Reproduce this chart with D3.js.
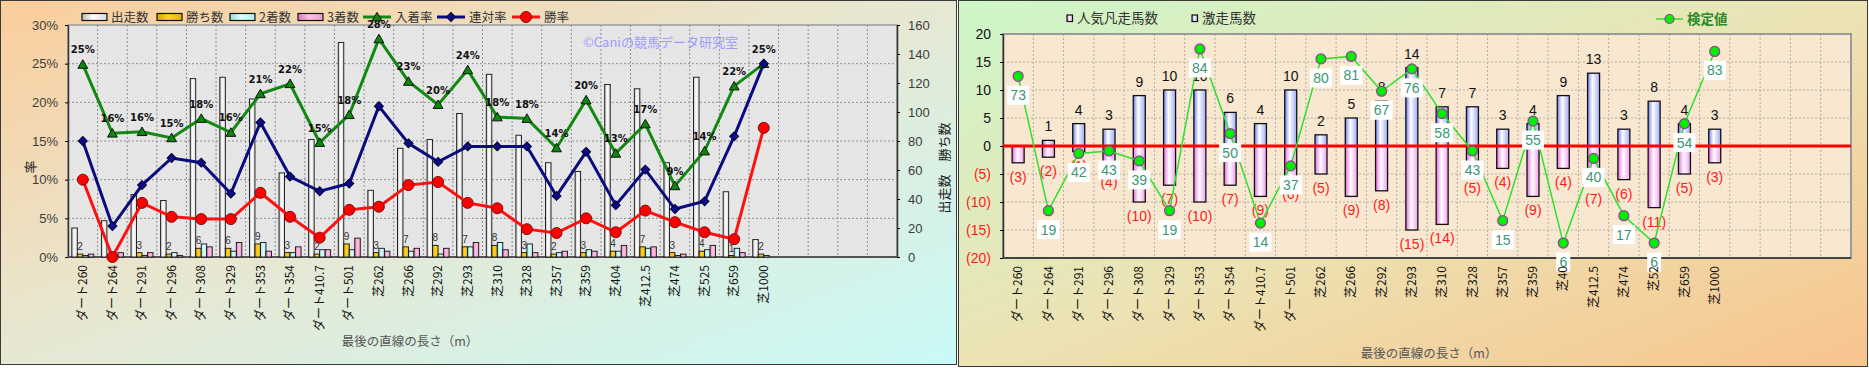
<!DOCTYPE html>
<html>
<head>
<meta charset="utf-8">
<script src="https://cdn.jsdelivr.net/npm/d3@7"></script>
<style>
  body { margin: 0; background: #fff; }
  svg { display: block; font-family: "Noto Sans CJK JP", "Noto Sans", sans-serif; }
</style>
</head>
<body>
<svg id="chart" width="1869" height="368"></svg>
<script>
"use strict";

//
//   DATA
//

var SLOTS = 28; // category slots on the x axis, only the first 24 are used

var categories = ["ダート260", "ダート264", "ダート291", "ダート296", "ダート308", "ダート329", "ダート353", "ダート354", "ダート410.7", "ダート501",
    "芝262", "芝266", "芝292", "芝293", "芝310", "芝328", "芝357", "芝359", "芝404", "芝412.5", "芝474", "芝525", "芝659", "芝1000"];
var categoriesRight = ["ダート260", "ダート264", "ダート291", "ダート296", "ダート308", "ダート329", "ダート353", "ダート354", "ダート410.7", "ダート501",
    "芝262", "芝266", "芝292", "芝293", "芝310", "芝328", "芝357", "芝359", "芝40", "芝412.5", "芝474", "芝52", "芝659", "芝1000"];

// left chart
var runs = [20, 25, 43, 39, 123, 124, 109, 58, 81, 148, 46, 75, 81, 99, 126, 84, 65, 59, 119, 116, 65, 124, 45, 12];
var wins = [2, 0, 3, 2, 6, 6, 9, 3, 2, 9, 3, 7, 8, 7, 8, 3, 2, 3, 4, 7, 3, 4, 1, 2];
var seconds = [1, 1, 1, 3, 9, 4, 10, 3, 5, 5, 6, 4, 2, 7, 10, 9, 3, 5, 4, 6, 1, 5, 6, 1];
var thirds = [2, 3, 3, 1, 7, 10, 4, 7, 5, 13, 4, 6, 6, 10, 5, 3, 4, 4, 8, 7, 2, 8, 3, 0];
var placeRate = [24.9, 16.0, 16.2, 15.4, 17.9, 16.1, 21.1, 22.4, 14.8, 18.4, 28.2, 22.7, 19.7, 24.2, 18.1, 17.9, 14.1, 20.3, 13.4, 17.2, 9.2, 13.7, 22.1, 25.0];
var quinellaRate = [15.0, 4.0, 9.3, 12.8, 12.2, 8.2, 17.4, 10.4, 8.5, 9.5, 19.5, 14.7, 12.3, 14.3, 14.3, 14.3, 7.9, 13.6, 6.7, 11.3, 6.2, 7.2, 15.6, 25.0];
var winRate = [10.0, 0, 7.0, 5.2, 4.9, 4.9, 8.3, 5.2, 2.5, 6.1, 6.5, 9.3, 9.7, 7.0, 6.3, 3.6, 3.1, 5.0, 3.2, 6.0, 4.5, 3.2, 2.3, 16.7];
var rateTicks = [0, 5, 10, 15, 20, 25, 30];
var countTicks = [0, 20, 40, 60, 80, 100, 120, 140, 160];

// right chart
var upsetCounts = [0, 1, 4, 3, 9, 10, 10, 6, 4, 10, 2, 5, 8, 14, 7, 7, 3, 4, 9, 13, 3, 8, 4, 3];      // 激走馬数
var flopCounts = [3, 2, 1, 4, 10, 7, 10, 7, 9, 6, 5, 9, 8, 15, 14, 5, 4, 9, 4, 7, 6, 11, 5, 3];      // 人気凡走馬数
var testValues = [73, 19, 42, 43, 39, 19, 84, 50, 14, 37, 80, 81, 67, 76, 58, 43, 15, 55, 6, 40, 17, 6, 54, 83]; // 検定値
var rightTicks = [-20, -15, -10, -5, 0, 5, 10, 15, 20];


//
//   SET UP
//

var svg = d3.select("#chart");
var defs = svg.append("defs");

function addGradient(id, stops, x2, y2) {
    var g = defs.append("linearGradient").attr("id", id)
        .attr("x1", 0).attr("y1", 0).attr("x2", x2).attr("y2", y2);
    stops.forEach(function (s) {
        g.append("stop").attr("offset", s[0]).attr("stop-color", s[1]);
    });
}

addGradient("leftBg", [[0, "#fbcd9b"], [0.45, "#e9e6cf"], [1, "#c9faf8"]], 1, 1);
addGradient("rightBg", [[0, "#cdf6c9"], [0.5, "#ece3b4"], [1, "#f8c48e"]], 1, 1);
addGradient("runsGrad", [[0, "#bdbdbd"], [0.45, "#ffffff"], [1, "#d8d8d8"]], 1, 0);
addGradient("winsGrad", [[0, "#d9a200"], [0.45, "#ffd42a"], [1, "#e6b400"]], 1, 0);
addGradient("secondGrad", [[0, "#94dede"], [0.45, "#dcffff"], [1, "#aeeeee"]], 1, 0);
addGradient("thirdGrad", [[0, "#df78bd"], [0.45, "#ffc2e2"], [1, "#ef9bce"]], 1, 0);
addGradient("upGrad", [[0, "#6f7ef0"], [0.4, "#ffffff"], [1, "#9eaaf8"]], 1, 0);
addGradient("flopGrad", [[0, "#e46ee4"], [0.45, "#ffffff"], [1, "#f09cf0"]], 1, 0);

var grain = defs.append("filter").attr("id", "grain")
    .attr("x", 0).attr("y", 0).attr("width", 1).attr("height", 1);
grain.append("feTurbulence").attr("type", "fractalNoise").attr("baseFrequency", 0.75).attr("numOctaves", 3).attr("seed", 4);
grain.append("feColorMatrix").attr("type", "saturate").attr("values", 0);

// panel backgrounds
svg.append("rect").attr("x", 0.5).attr("y", 0.5).attr("width", 956).attr("height", 364)
    .style("fill", "url(#leftBg)").style("stroke", "#3a3a3a");
svg.append("rect").attr("x", 958.5).attr("y", 0.5).attr("width", 909).attr("height", 366)
    .style("fill", "url(#rightBg)").style("stroke", "#3a3a3a");


//
//   LEFT CHART
//

var L = { left: 68, right: 897, top: 25, bottom: 257 };
var xL = d3.scaleBand().domain(d3.range(SLOTS)).range([L.left, L.right]);
var xSub = d3.scaleBand().domain([0, 1, 2, 3]).range([0, xL.bandwidth()]).paddingOuter(0.69);
var yRate = d3.scaleLinear().domain([0, 30]).range([L.bottom, L.top]);
var yCount = d3.scaleLinear().domain([0, 160]).range([L.bottom, L.top]);

var left = svg.append("g");

left.append("rect").attr("x", L.left).attr("y", L.top)
    .attr("width", L.right - L.left).attr("height", L.bottom - L.top)
    .style("fill", "#ebebeb");
left.append("rect").attr("x", L.left).attr("y", L.top)
    .attr("width", L.right - L.left).attr("height", L.bottom - L.top)
    .attr("filter", "url(#grain)").style("opacity", 0.22);

// gridlines
rateTicks.slice(1, -1).forEach(function (t) {
    left.append("line").attr("x1", L.left).attr("x2", L.right)
        .attr("y1", yRate(t)).attr("y2", yRate(t))
        .style("stroke", "#8e8e8e").style("stroke-dasharray", "2,2");
});
d3.range(1, SLOTS).forEach(function (i) {
    left.append("line").attr("x1", xL(i)).attr("x2", xL(i))
        .attr("y1", L.top).attr("y2", L.bottom)
        .style("stroke", "#8e8e8e").style("stroke-dasharray", "2,2");
});
left.append("rect").attr("x", L.left).attr("y", L.top)
    .attr("width", L.right - L.left).attr("height", L.bottom - L.top)
    .style("fill", "none").style("stroke", "#9a9a9a").style("stroke-width", 1.5);

// axes
var axisRate = d3.axisLeft(yRate).tickValues(rateTicks).tickSizeInner(3).tickSizeOuter(0).tickPadding(7)
    .tickFormat(function (d) { return d + "%"; });
var axisCount = d3.axisRight(yCount).tickValues(countTicks).tickSizeInner(3).tickSizeOuter(0).tickPadding(8);
var gRate = left.append("g").attr("transform", "translate(" + L.left + ",0)").call(axisRate);
var gCount = left.append("g").attr("transform", "translate(" + L.right + ",0)").call(axisCount);
[gRate, gCount].forEach(function (g) {
    g.select(".domain").style("stroke", "#333").style("stroke-width", 1.5);
    g.selectAll("text").style("font-size", "13px").style("fill", "#3c3c3c")
        .style("font-family", "'Liberation Sans', Arial, sans-serif");
});
left.append("line").attr("x1", L.left).attr("x2", L.right).attr("y1", L.bottom).attr("y2", L.bottom)
    .style("stroke", "#555").style("stroke-width", 2);

// bars (zero values are kept in the data but hidden)
var barSeries = [runs, wins, seconds, thirds];
var barFills = ["url(#runsGrad)", "url(#winsGrad)", "url(#secondGrad)", "url(#thirdGrad)"];
barSeries.forEach(function (series, s) {
    left.selectAll("rect.bar" + s).data(series).enter()
        .append("rect")
        .attr("class", "bar" + s)
        .attr("x", function (d, i) { return xL(i) + xSub(s); })
        .attr("y", function (d) { return yCount(d); })
        .attr("width", xSub.bandwidth())
        .attr("height", function (d) { return L.bottom - yCount(d); })
        .style("display", function (d) { return d > 0 ? null : "none"; })
        .style("fill", barFills[s]).style("stroke", "#111").style("stroke-width", 0.9);
});

// win count labels
wins.forEach(function (d, i) {
    if (d <= 0) return;
    left.append("text")
        .attr("x", xL(i) + xSub(1) + xSub.bandwidth() / 2)
        .attr("y", yCount(d) - 4)
        .attr("text-anchor", "middle")
        .style("font-size", "10px").style("fill", "#333")
        .style("font-family", "'Liberation Sans', Arial, sans-serif")
        .text(d);
});

// watermark
left.append("text").attr("x", 583).attr("y", 47)
    .style("font-size", "13px").style("fill", "#9c9cff")
    .text("©Caniの競馬データ研究室");

// lines
function cx(i) { return xL(i) + xL.bandwidth() / 2; }
var rateLine = d3.line().x(function (d, i) { return cx(i); }).y(function (d) { return yRate(d); });

var lineDefs = [
    { data: placeRate, color: "#118811", marker: "triangle", fill: "#0a8a0a" },
    { data: quinellaRate, color: "#0b0b80", marker: "diamond", fill: "#0b0b8c" },
    { data: winRate, color: "#ff1010", marker: "circle", fill: "#ff0000" }
];

function drawMarker(g, type, x, y, fill) {
    if (type === "circle") {
        g.append("circle").attr("cx", x).attr("cy", y).attr("r", 5.5)
            .style("fill", fill).style("stroke", "#7a1010").style("stroke-width", 1);
    } else if (type === "triangle") {
        g.append("path").attr("d", d3.symbol(d3.symbolTriangle, 42)())
            .attr("transform", "translate(" + x + "," + (y + 1) + ")")
            .style("fill", fill).style("stroke", "#111").style("stroke-width", 1);
    } else {
        g.append("path").attr("d", d3.symbol(d3.symbolSquare, 40)())
            .attr("transform", "translate(" + x + "," + y + ") rotate(45)")
            .style("fill", fill).style("stroke", "#000030").style("stroke-width", 1);
    }
}

lineDefs.forEach(function (ld) {
    left.append("path").attr("d", rateLine(ld.data))
        .style("fill", "none").style("stroke", ld.color).style("stroke-width", 3);
});
lineDefs.forEach(function (ld) {
    ld.data.forEach(function (d, i) {
        drawMarker(left, ld.marker, cx(i), yRate(d), ld.fill);
    });
});

// place rate labels
placeRate.forEach(function (d, i) {
    left.append("text")
        .attr("x", cx(i)).attr("y", yRate(d) - 11)
        .attr("text-anchor", "middle")
        .style("font-size", "10px").style("font-weight", "bold").style("fill", "#111")
        .style("font-family", "'DejaVu Sans', sans-serif")
        .text(Math.round(d) + "%");
});

// x labels
categories.forEach(function (c, i) {
    left.append("text")
        .attr("transform", "translate(" + cx(i) + "," + (L.bottom + 8) + ") rotate(-90)")
        .attr("text-anchor", "end").attr("dy", "0.35em")
        .style("font-size", "12px").style("fill", "#111")
        .text(c);
});

// titles
left.append("text").attr("x", 410).attr("y", 346).attr("text-anchor", "middle")
    .style("font-size", "12.5px").style("fill", "#555").text("最後の直線の長さ（m）");
left.append("text").attr("transform", "translate(30,167) rotate(-90)").attr("text-anchor", "middle")
    .attr("dy", "0.35em").style("font-size", "13px").style("fill", "#222").text("率");
left.append("text").attr("transform", "translate(944,168) rotate(-90)").attr("text-anchor", "middle")
    .attr("dy", "0.35em").style("font-size", "13px").style("fill", "#222").text("出走数　勝ち数");

// legend
var legendBars = [
    { label: "出走数", fill: "url(#runsGrad)", x: 82 },
    { label: "勝ち数", fill: "url(#winsGrad)", x: 157 },
    { label: "2着数", fill: "url(#secondGrad)", x: 230 },
    { label: "3着数", fill: "url(#thirdGrad)", x: 298 }
];
legendBars.forEach(function (lb) {
    left.append("rect").attr("x", lb.x).attr("y", 13.5).attr("width", 25).attr("height", 7)
        .style("fill", lb.fill).style("stroke", "#111").style("stroke-width", 1.2);
    left.append("text").attr("x", lb.x + 29).attr("y", 22)
        .style("font-size", "12.5px").style("fill", "#333").text(lb.label);
});
var legendLines = [
    { label: "入着率", def: lineDefs[0], x: 363 },
    { label: "連対率", def: lineDefs[1], x: 437 },
    { label: "勝率", def: lineDefs[2], x: 512 }
];
legendLines.forEach(function (ll) {
    left.append("line").attr("x1", ll.x).attr("x2", ll.x + 28).attr("y1", 17).attr("y2", 17)
        .style("stroke", ll.def.color).style("stroke-width", 3);
    drawMarker(left, ll.def.marker, ll.x + 14, 17, ll.def.fill);
    left.append("text").attr("x", ll.x + 32).attr("y", 22)
        .style("font-size", "12.5px").style("fill", "#333").text(ll.label);
});


//
//   RIGHT CHART
//

var R = { left: 1003, right: 1851, top: 34, bottom: 258 };
var xR = d3.scaleBand().domain(d3.range(SLOTS)).range([R.left, R.right]);
var yR = d3.scaleLinear().domain([-20, 20]).range([R.bottom, R.top]);
var yTest = d3.scaleLinear().domain([0, 90]).range([R.bottom, R.top]); // hidden secondary axis
var BAR_W = 12;

function rx(i) { return xR(i) + xR.bandwidth() / 2; }

var right = svg.append("g");

right.append("rect").attr("x", R.left).attr("y", R.top)
    .attr("width", R.right - R.left).attr("height", R.bottom - R.top)
    .style("fill", "#fcebd2");
right.append("rect").attr("x", R.left).attr("y", R.top)
    .attr("width", R.right - R.left).attr("height", R.bottom - R.top)
    .attr("filter", "url(#grain)").style("opacity", 0.12);

rightTicks.slice(1, -1).forEach(function (t) {
    right.append("line").attr("x1", R.left).attr("x2", R.right)
        .attr("y1", yR(t)).attr("y2", yR(t))
        .style("stroke", "#b5aba0").style("stroke-dasharray", "2,2");
});
d3.range(1, SLOTS).forEach(function (i) {
    right.append("line").attr("x1", xR(i)).attr("x2", xR(i))
        .attr("y1", R.top).attr("y2", R.bottom)
        .style("stroke", "#b5aba0").style("stroke-dasharray", "2,2");
});
right.append("rect").attr("x", R.left).attr("y", R.top)
    .attr("width", R.right - R.left).attr("height", R.bottom - R.top)
    .style("fill", "none").style("stroke", "#9a9a9a").style("stroke-width", 2);

var axisRight = d3.axisLeft(yR).tickValues(rightTicks).tickSizeInner(3).tickSizeOuter(0).tickPadding(9)
    .tickFormat(function (d) { return d < 0 ? "(" + (-d) + ")" : d; });
var gR = right.append("g").attr("transform", "translate(" + R.left + ",0)").call(axisRight);
gR.select(".domain").style("stroke", "#333").style("stroke-width", 1.5);
gR.selectAll("text").style("font-size", "14px")
    .style("font-family", "'Liberation Sans', Arial, sans-serif")
    .style("fill", function (d) { return d < 0 ? "#ff1a1a" : "#111"; });
right.append("line").attr("x1", R.left).attr("x2", R.right).attr("y1", R.bottom).attr("y2", R.bottom)
    .style("stroke", "#444").style("stroke-width", 2);

// bars
right.selectAll("rect.flop").data(flopCounts).enter().append("rect")
    .attr("class", "flop")
    .attr("x", function (d, i) { return rx(i) - BAR_W / 2; })
    .attr("y", yR(0))
    .attr("width", BAR_W)
    .attr("height", function (d) { return yR(-d) - yR(0); })
    .style("fill", "url(#flopGrad)").style("stroke", "#111").style("stroke-width", 1.3);
right.selectAll("rect.upset").data(upsetCounts).enter()
    .append("rect")
    .attr("class", "upset")
    .attr("x", function (d, i) { return rx(i) - BAR_W / 2; })
    .attr("y", function (d) { return yR(d); })
    .attr("width", BAR_W)
    .attr("height", function (d) { return yR(0) - yR(d); })
    .style("display", function (d) { return d > 0 ? null : "none"; })
    .style("fill", "url(#upGrad)").style("stroke", "#111").style("stroke-width", 1.3);

// bar labels
upsetCounts.forEach(function (d, i) {
    if (d <= 0) return;
    right.append("text").attr("x", rx(i)).attr("y", yR(d) - 9)
        .attr("text-anchor", "middle")
        .style("font-size", "14px").style("fill", "#111")
        .style("font-family", "'Liberation Sans', Arial, sans-serif")
        .text(d);
});
flopCounts.forEach(function (d, i) {
    right.append("text").attr("x", rx(i)).attr("y", yR(-d) + 19)
        .attr("text-anchor", "middle")
        .style("font-size", "14px").style("fill", "#ff1a1a")
        .style("font-family", "'Liberation Sans', Arial, sans-serif")
        .text("(" + d + ")");
});

// zero line
right.append("line").attr("x1", R.left).attr("x2", R.right)
    .attr("y1", yR(0)).attr("y2", yR(0))
    .style("stroke", "#ff0000").style("stroke-width", 3);

// test value line
var testLine = d3.line().x(function (d, i) { return rx(i); }).y(function (d) { return yTest(d); });
right.append("path").attr("d", testLine(testValues))
    .style("fill", "none").style("stroke", "#2ee02e").style("stroke-width", 1.5);
testValues.forEach(function (d, i) {
    right.append("circle").attr("cx", rx(i)).attr("cy", yTest(d)).attr("r", 5)
        .style("fill", "#00ee00").style("stroke", "#9a3a9a").style("stroke-width", 1.2);
});
testValues.forEach(function (d, i) {
    var w = String(d).length * 8 + 6;
    var y = yTest(d) + 19;
    right.append("rect").attr("x", rx(i) - w / 2).attr("y", y - 9.5)
        .attr("width", w).attr("height", 19).style("fill", "#ffffff");
    right.append("text").attr("x", rx(i)).attr("y", y + 5)
        .attr("text-anchor", "middle")
        .style("font-size", "14px").style("fill", "#3a9676")
        .style("font-family", "'Liberation Sans', Arial, sans-serif")
        .text(d);
});

// x labels
categoriesRight.forEach(function (c, i) {
    right.append("text")
        .attr("transform", "translate(" + rx(i) + "," + (R.bottom + 8) + ") rotate(-90)")
        .attr("text-anchor", "end").attr("dy", "0.35em")
        .style("font-size", "12px").style("fill", "#111")
        .text(c);
});

right.append("text").attr("x", 1429).attr("y", 358).attr("text-anchor", "middle")
    .style("font-size", "12.5px").style("fill", "#555").text("最後の直線の長さ（m）");

// legend
[{ label: "人気凡走馬数", fill: "url(#flopGrad)", x: 1067 }, { label: "激走馬数", fill: "url(#upGrad)", x: 1192 }]
    .forEach(function (lb) {
        right.append("rect").attr("x", lb.x).attr("y", 15).attr("width", 5.5).attr("height", 6.5)
            .style("fill", lb.fill).style("stroke", "#111").style("stroke-width", 1.2);
        right.append("text").attr("x", lb.x + 10).attr("y", 23)
            .style("font-size", "13.5px").style("fill", "#333").text(lb.label);
    });
right.append("line").attr("x1", 1656).attr("x2", 1683).attr("y1", 19).attr("y2", 19)
    .style("stroke", "#2ee02e").style("stroke-width", 1.5);
right.append("circle").attr("cx", 1669.5).attr("cy", 19).attr("r", 4.5)
    .style("fill", "#00ee00").style("stroke", "#9a3a9a").style("stroke-width", 1.2);
right.append("text").attr("x", 1687).attr("y", 24)
    .style("font-size", "13.5px").style("font-weight", "bold").style("fill", "#2a8a2a").text("検定値");
</script>
</body>
</html>
